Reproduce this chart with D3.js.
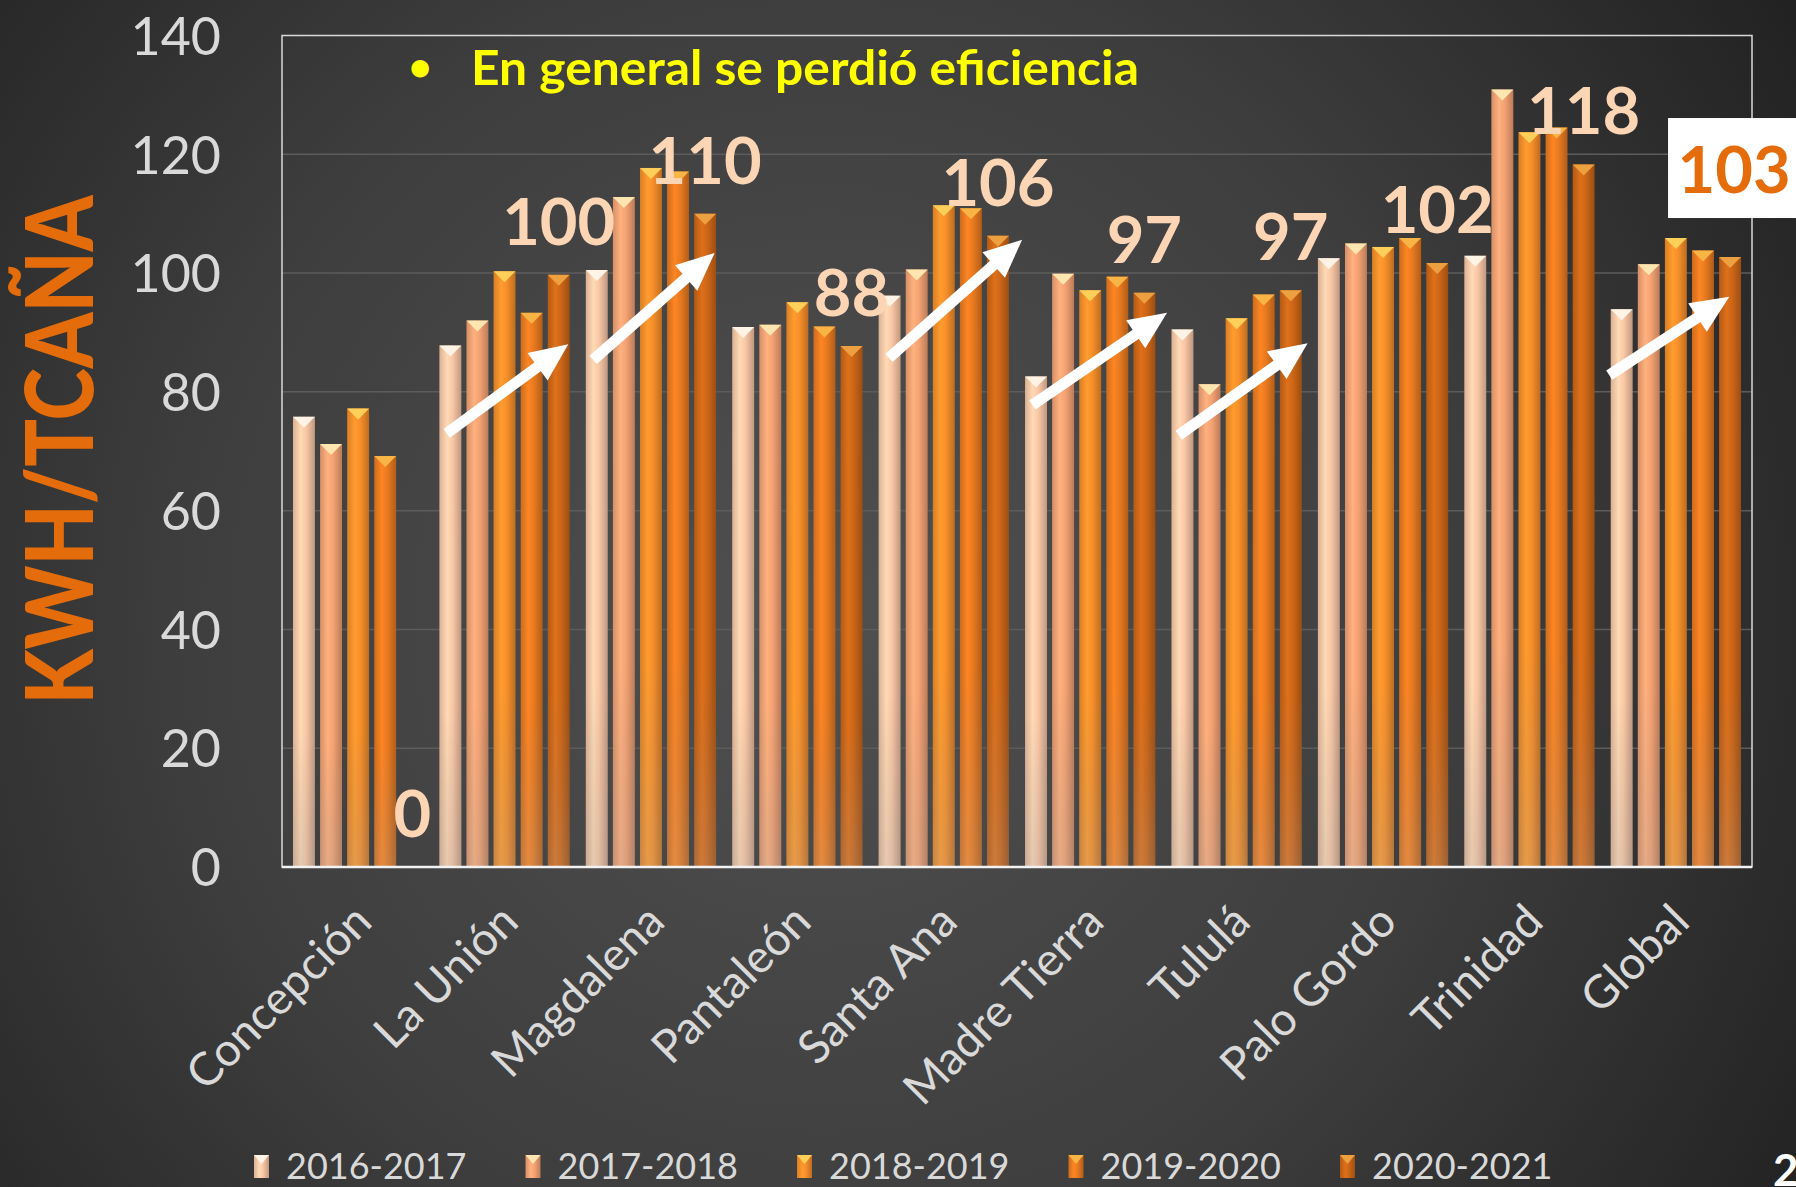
<!DOCTYPE html>
<html>
<head>
<meta charset="utf-8">
<script src="https://cdn.jsdelivr.net/npm/d3@7"></script>
<style>
  html, body { margin: 0; padding: 0; background: #333; overflow: hidden; }
  svg { display: block; font-family: Lato, "Open Sans", sans-serif; }
</style>
</head>
<body>
<svg id="chart" width="1796" height="1187"></svg>
<script>
var categories = ["Concepción", "La Unión", "Magdalena", "Pantaleón", "Santa Ana",
  "Madre Tierra", "Tululá", "Palo Gordo", "Trinidad", "Global"];
var seasons = ["2016-2017", "2017-2018", "2018-2019", "2019-2020", "2020-2021"];

var kwh1617 = [75.8, 87.8, 100.5, 90.9, 96.2, 82.6, 90.5, 102.5, 102.9, 93.9];
var kwh1718 = [71.2, 92.0, 112.8, 91.3, 100.6, 99.9, 81.3, 105.0, 130.9, 101.5];
var kwh1819 = [77.2, 100.3, 117.7, 95.1, 111.4, 97.1, 92.4, 104.4, 123.7, 105.9];
var kwh1920 = [69.2, 93.3, 117.1, 91.0, 110.9, 99.4, 96.4, 105.9, 124.5, 103.8];
var kwh2021 = [0, 99.7, 110.0, 87.7, 106.3, 96.7, 97.1, 101.7, 118.3, 102.7];

var yTicks = [0, 20, 40, 60, 80, 100, 120, 140];
var noteText = "En general se perdió eficiencia";
var axisTitle = "KWH/TCAÑA";

// trend arrows: category, start [share of group step, value], end [share, value]
var arrowNotes = [
  { cat: "La Unión", from: [0.05, 73], to: [0.88, 88] },
  { cat: "Magdalena", from: [0.05, 85.4], to: [0.88, 103.4] },
  { cat: "Santa Ana", from: [0.07, 85.7], to: [0.98, 105.6] },
  { cat: "Madre Tierra", from: [0.05, 77.8], to: [0.97, 93.3] },
  { cat: "Tululá", from: [0.05, 72.7], to: [0.93, 88.2] },
  { cat: "Global", from: [-0.01, 82.8], to: [0.81, 96] }
];

var seriesValues = [kwh1617, kwh1718, kwh1819, kwh1920, kwh2021];
var seriesColors = ["#F9C7A6", "#F4A273", "#F78F2A", "#E87A20", "#CC6617"];
var capColors = ["#FFF3E6", "#FFE6B0", "#FFCF5A", "#F8B445", "#EDA040"];

var W = 1796, H = 1187;
var plotLeft = 282, plotRight = 1752, plotTop = 35.5, plotBottom = 867;

var svg = d3.select("#chart");
var defs = svg.append("defs");

var bg = defs.append("radialGradient")
  .attr("id", "bg")
  .attr("gradientUnits", "userSpaceOnUse")
  .attr("cx", 820).attr("cy", 620).attr("r", 1150);
bg.append("stop").attr("offset", "0%").attr("stop-color", "#505050");
bg.append("stop").attr("offset", "55%").attr("stop-color", "#3e3e3e");
bg.append("stop").attr("offset", "100%").attr("stop-color", "#222");

seriesColors.forEach(function (c, i) {
  var base = d3.color(c);
  var g = defs.append("linearGradient")
    .attr("id", "bar" + i)
    .attr("x1", 0).attr("x2", 1).attr("y1", 0).attr("y2", 0);
  g.append("stop").attr("offset", "0%").attr("stop-color", base.darker(0.35));
  g.append("stop").attr("offset", "35%").attr("stop-color", base.brighter(0.25));
  g.append("stop").attr("offset", "60%").attr("stop-color", base);
  g.append("stop").attr("offset", "100%").attr("stop-color", base.darker(0.75));
});

var fade = defs.append("linearGradient")
  .attr("id", "fade")
  .attr("x1", 0).attr("x2", 0).attr("y1", 0).attr("y2", 1);
fade.append("stop").attr("offset", "0%").attr("stop-color", "#777").attr("stop-opacity", 0);
fade.append("stop").attr("offset", "70%").attr("stop-color", "#777").attr("stop-opacity", 0);
fade.append("stop").attr("offset", "100%").attr("stop-color", "#999").attr("stop-opacity", 0.25);

svg.append("rect").attr("width", W).attr("height", H).attr("fill", "url(#bg)");

var x0 = d3.scaleBand()
  .domain(categories)
  .range([plotLeft, plotRight])
  .paddingInner(0.11)
  .paddingOuter(0.075);

var x1 = d3.scaleBand()
  .domain(seasons)
  .range([0, x0.bandwidth()])
  .paddingInner(0.19);

var y = d3.scaleLinear().domain([0, 140]).range([plotBottom, plotTop]);

// gridlines
svg.append("g")
  .selectAll("line")
  .data(yTicks.slice(1, -1))
  .join("line")
  .attr("x1", plotLeft).attr("x2", plotRight)
  .attr("y1", function (d) { return y(d); })
  .attr("y2", function (d) { return y(d); })
  .attr("stroke", "#5c5c5c")
  .attr("stroke-width", 1.5);

// y tick labels
var yAxis = svg.append("g")
  .attr("transform", "translate(221,0)")
  .call(d3.axisLeft(y).tickValues(yTicks).tickSize(0).tickPadding(0));
yAxis.select(".domain").remove();
yAxis.selectAll("text")
  .attr("fill", "#D9D9D9")
  .attr("font-size", 52)
  .attr("font-family", "Lato, 'Open Sans', sans-serif")
  .attr("dy", "0.36em");

svg.append("text")
  .attr("transform", "translate(93,450) rotate(-90)")
  .attr("text-anchor", "middle")
  .attr("fill", "#E46C0A")
  .attr("font-size", 94)
  .attr("font-weight", 900)
  .attr("textLength", 509)
  .attr("lengthAdjust", "spacingAndGlyphs")
  .text(axisTitle);

// bars
var groups = svg.append("g")
  .selectAll("g")
  .data(categories)
  .join("g")
  .attr("transform", function (d) { return "translate(" + x0(d) + ",0)"; });

groups.each(function (cat, ci) {
  var g = d3.select(this);
  var rows = seasons.map(function (s, si) {
    return { season: s, si: si, value: seriesValues[si][ci] };
  }).filter(function (r) { return r.value > 0; });

  g.selectAll("rect.bar")
    .data(rows)
    .join("rect")
    .attr("class", "bar")
    .attr("x", function (r) { return x1(r.season); })
    .attr("y", function (r) { return y(r.value); })
    .attr("width", x1.bandwidth())
    .attr("height", function (r) { return y(0) - y(r.value); })
    .attr("fill", function (r) { return "url(#bar" + r.si + ")"; });

  g.selectAll("rect.fade")
    .data(rows)
    .join("rect")
    .attr("class", "fade")
    .attr("x", function (r) { return x1(r.season); })
    .attr("y", function (r) { return y(r.value); })
    .attr("width", x1.bandwidth())
    .attr("height", function (r) { return y(0) - y(r.value); })
    .attr("fill", "url(#fade)");

  g.selectAll("path.cap")
    .data(rows)
    .join("path")
    .attr("class", "cap")
    .attr("fill", function (r) { return capColors[r.si]; })
    .attr("d", function (r) {
      var bx = x1(r.season), bw = x1.bandwidth(), by = y(r.value);
      return "M" + bx + "," + by + "L" + (bx + bw) + "," + by +
        "L" + (bx + bw / 2) + "," + (by + 11) + "Z";
    });
});

// plot frame and axis line
svg.append("rect")
  .attr("x", plotLeft).attr("y", plotTop)
  .attr("width", plotRight - plotLeft).attr("height", plotBottom - plotTop)
  .attr("fill", "none")
  .attr("stroke", "#d9d9d9")
  .attr("stroke-width", 1.5);

svg.append("line")
  .attr("x1", plotLeft).attr("x2", plotRight)
  .attr("y1", plotBottom).attr("y2", plotBottom)
  .attr("stroke", "#f2f2f2")
  .attr("stroke-width", 2.5);

// category labels
svg.append("g")
  .selectAll("text")
  .data(categories)
  .join("text")
  .attr("transform", function (d) {
    return "translate(" + (x0(d) + x0.bandwidth() / 2 + 16) + "," + 924 + ") rotate(-45)";
  })
  .attr("text-anchor", "end")
  .attr("fill", "#D9D9D9")
  .attr("font-size", 46)
  .text(function (d) { return d; });

// data labels for last season
var last = seasons[seasons.length - 1];
var labelRows = categories.map(function (c, ci) {
  return { cat: c, value: kwh2021[ci], boxed: ci === categories.length - 1 };
});

var labels = svg.append("g");
labelRows.forEach(function (r) {
  var cx = x0(r.cat) + x1(last) + x1.bandwidth() / 2;
  var by = y(r.value) - (r.boxed ? 64 : 30);
  if (r.boxed) {
    labels.append("rect")
      .attr("x", cx - 62).attr("y", by - 75)
      .attr("width", 140).attr("height", 100)
      .attr("fill", "#fff");
  }
  labels.append("text")
    .attr("x", r.boxed ? cx + 4 : cx)
    .attr("y", by)
    .attr("text-anchor", "middle")
    .attr("fill", r.boxed ? "#E46C0A" : "#FCD5B5")
    .attr("font-size", 65)
    .attr("font-weight", 700)
    .text(d3.format(".0f")(r.value));
});

// arrows
var arrowLayer = svg.append("g");
arrowNotes.forEach(function (a) {
  var step = x0.step();
  var xA = x0(a.cat) + a.from[0] * step, yA = y(a.from[1]);
  var xB = x0(a.cat) + a.to[0] * step, yB = y(a.to[1]);
  var ang = Math.atan2(yB - yA, xB - xA);
  var len = 38, half = 17;
  var bx = xB - len * Math.cos(ang), byy = yB - len * Math.sin(ang);
  arrowLayer.append("line")
    .attr("x1", xA).attr("y1", yA)
    .attr("x2", bx + 2 * Math.cos(ang)).attr("y2", byy + 2 * Math.sin(ang))
    .attr("stroke", "#fff")
    .attr("stroke-width", 11);
  var px = -Math.sin(ang), py = Math.cos(ang);
  arrowLayer.append("path")
    .attr("fill", "#fff")
    .attr("d", "M" + xB + "," + yB +
      "L" + (bx + px * half) + "," + (byy + py * half) +
      "L" + (bx - px * half) + "," + (byy - py * half) + "Z");
});

// note text
svg.append("text")
  .attr("x", 420).attr("y", 81)
  .attr("text-anchor", "middle")
  .attr("fill", "#FFFF00")
  .attr("font-size", 40)
  .attr("font-weight", 700)
  .text("•");
svg.append("text")
  .attr("x", 471).attr("y", 85)
  .attr("fill", "#FFFF00")
  .attr("font-size", 47)
  .attr("font-weight", 700)
  .attr("textLength", 668)
  .attr("lengthAdjust", "spacingAndGlyphs")
  .text(noteText);

// legend
var legend = svg.append("g")
  .selectAll("g")
  .data(seasons)
  .join("g")
  .attr("transform", function (d, i) { return "translate(" + (254 + i * 271.5) + ",1155)"; });

legend.append("rect")
  .attr("width", 15).attr("height", 23)
  .attr("fill", function (d, i) { return "url(#bar" + i + ")"; });
legend.append("path")
  .attr("d", "M0,0L15,0L7.5,9Z")
  .attr("fill", function (d, i) { return capColors[i]; });
legend.append("text")
  .attr("x", 32).attr("y", 24)
  .attr("fill", "#D9D9D9")
  .attr("font-size", 36)
  .text(function (d) { return d; });

svg.append("text")
  .attr("x", 1773).attr("y", 1186)
  .attr("fill", "#fff")
  .attr("font-size", 44)
  .attr("font-weight", 700)
  .text("2");
</script>
</body>
</html>
